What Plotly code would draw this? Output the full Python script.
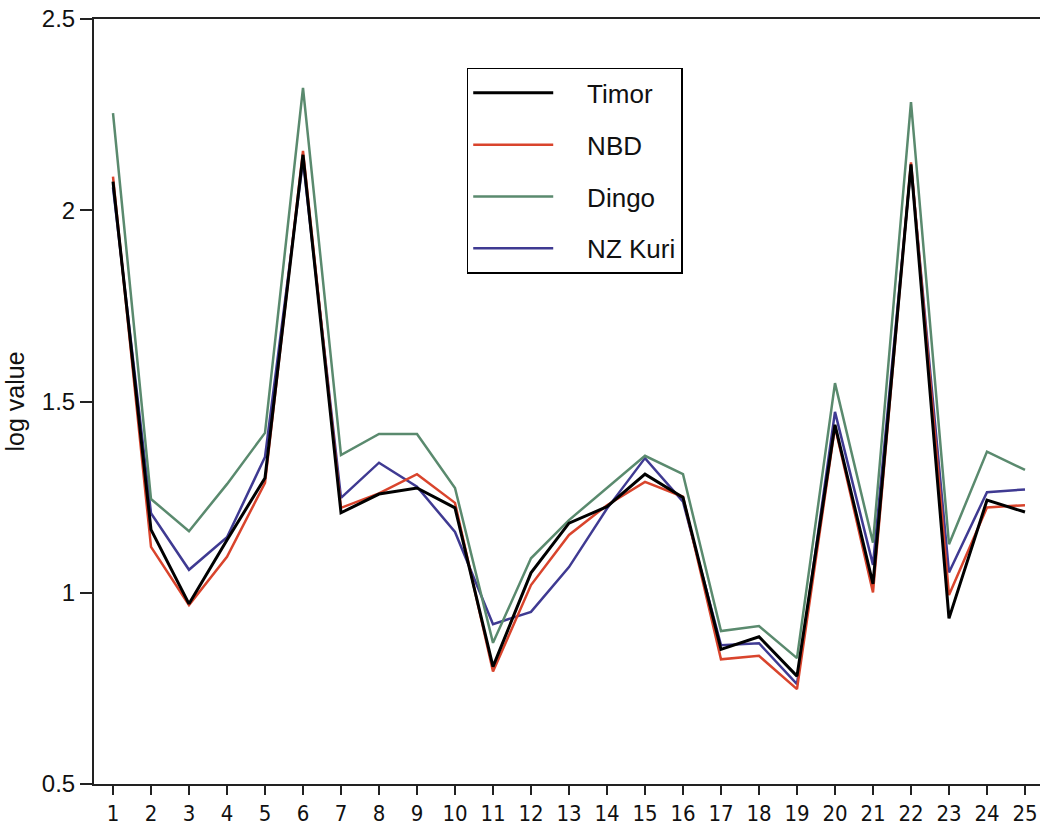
import plotly.graph_objects as go

categories = list(range(1, 26))
tick_labels = [str(c) for c in categories]

timor = [2.075, 1.165, 0.971, 1.138, 1.300, 2.145, 1.209, 1.258, 1.274, 1.222,
         0.807, 1.052, 1.182, 1.225, 1.310, 1.249, 0.852, 0.885, 0.782, 1.439,
         1.023, 2.120, 0.933, 1.242, 1.211]
nbd = [2.088, 1.120, 0.968, 1.094, 1.287, 2.155, 1.222, 1.260, 1.310, 1.235,
       0.794, 1.020, 1.151, 1.229, 1.290, 1.251, 0.826, 0.835, 0.748, 1.434,
       1.001, 2.125, 0.994, 1.223, 1.229]
dingo = [2.254, 1.245, 1.161, 1.284, 1.418, 2.320, 1.360, 1.415, 1.415, 1.274,
         0.869, 1.090, 1.190, 1.274, 1.358, 1.310, 0.900, 0.913, 0.829, 1.548,
         1.131, 2.283, 1.127, 1.369, 1.321]
nz_kuri = [2.060, 1.208, 1.060, 1.145, 1.355, 2.130, 1.248, 1.340, 1.277, 1.159,
           0.918, 0.950, 1.067, 1.220, 1.352, 1.238, 0.863, 0.868, 0.761, 1.473,
           1.073, 2.115, 1.053, 1.263, 1.270]

series = [
    ("Timor", timor, "#000000", 3),
    ("NBD", nbd, "#d9442c", 2.5),
    ("Dingo", dingo, "#5a8a6e", 2.5),
    ("NZ Kuri", nz_kuri, "#3f3a92", 2.5),
]

NBSP = "\u00a0"
fig = go.Figure()
# draw in reverse so Timor sits on top; legend order kept via legendrank
for rank, (name, vals, color, w) in reversed(list(enumerate(series))):
    fig.add_trace(go.Scatter(
        x=categories, y=vals, mode="lines", name=NBSP * 4 + name,
        line=dict(color=color, width=w),
        legendgroup=name, legendrank=rank + 1,
    ))

axis_font = "Liberation Sans, Arial, sans-serif"
fig.update_layout(
    width=1040, height=825,
    margin=dict(l=94, r=0, t=19, b=41),
    paper_bgcolor="white", plot_bgcolor="white",
    showlegend=True,
    legend=dict(
        x=0.394, y=0.936, xanchor="left", yanchor="top",
        bordercolor="#000000", borderwidth=1.5,
        bgcolor="white",
        font=dict(family=axis_font, size=26, color="#111111"),
        itemwidth=80, tracegroupgap=15,
        traceorder="grouped",
    ),
    xaxis=dict(
        range=[0.5, 25.395], automargin=False,
        tickmode="array", tickvals=categories, ticktext=tick_labels,
        ticks="outside", ticklen=9, tickwidth=1.5, tickcolor="#222222",
        showline=True, linecolor="#222222", linewidth=2, mirror=True,
        showgrid=False, zeroline=False, ticklabeloverflow="allow",
        tickfont=dict(family="Liberation Sans Narrow, Arial Narrow, DejaVu Sans Condensed, sans-serif",
                      size=22, color="#111111"),
    ),
    yaxis=dict(
        range=[0.5, 2.5], automargin=False,
        tickmode="array", tickvals=[0.5, 1, 1.5, 2, 2.5],
        ticktext=["0.5", "1", "1.5", "2", "2.5"],
        ticks="outside", ticklen=12, tickwidth=1.5, tickcolor="#222222",
        showline=True, linecolor="#222222", linewidth=2, mirror=False,
        showgrid=False, zeroline=False, ticklabeloverflow="allow",
        tickfont=dict(family=axis_font, size=24, color="#111111"),
        title=dict(text="log value", font=dict(family=axis_font, size=25, color="#111111"),
                   standoff=10),
    ),
)

fig.write_html(
    "out.html",
    config={"displayModeBar": False},
    post_script="document.body.style.margin='0';document.body.style.overflow='hidden';",
)
